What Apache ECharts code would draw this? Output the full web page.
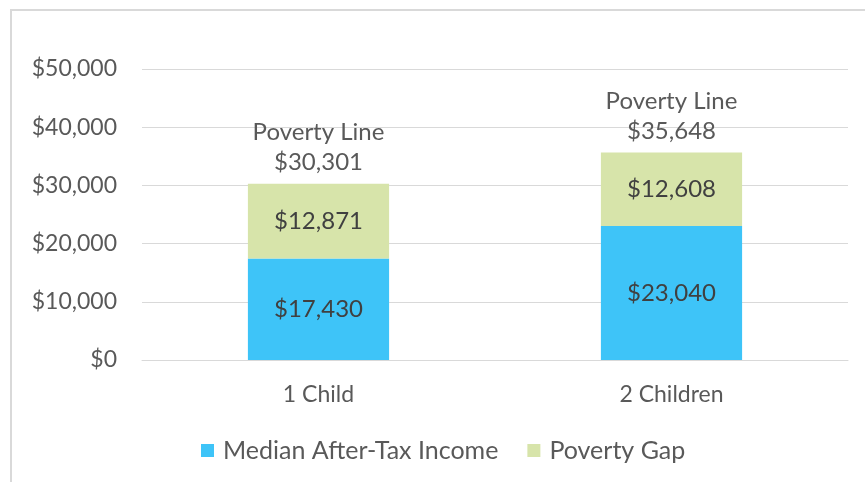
<!DOCTYPE html>
<html>
<head>
<meta charset="utf-8">
<script src="https://cdn.jsdelivr.net/npm/echarts@6/dist/echarts.min.js"></script>
<style>
  html, body { margin: 0; padding: 0; background: #fff; }
  #chart { width: 865px; height: 482px; }
</style>
</head>
<body>
<div id="chart"></div>
<script>
// Household categories and dollar amounts
const categories = ['1 Child', '2 Children'];
const medianIncome = [17430, 23040];
const povertyGap = [12871, 12608];
const povertyLine = [30301, 35648];
const seriesNames = ['Median After-Tax Income', 'Poverty Gap'];

const fontFamily = 'Lato, "Open Sans", sans-serif';
const money = v => '$' + Math.round(v).toLocaleString('en-US');

const chart = echarts.init(document.getElementById('chart'), null, { renderer: 'canvas' });

chart.setOption({
  animation: false,
  backgroundColor: '#ffffff',
  textStyle: { fontFamily: fontFamily },
  graphic: [{
    type: 'rect',
    shape: { x: 11, y: 10, width: 900, height: 520 },
    style: { fill: 'none', stroke: '#d9d9d9', lineWidth: 2 },
    silent: true
  }],
  grid: { left: 142, right: 17, top: 69, bottom: 122 },
  legend: {
    bottom: 14,
    left: 196,
    itemWidth: 13,
    itemHeight: 13,
    itemGap: 29,
    icon: 'rect',
    textStyle: {
      fontSize: 25,
      color: '#595959',
      fontFamily: fontFamily,
      padding: [0, 0, 0, 4]
    },
    data: seriesNames
  },
  xAxis: {
    type: 'category',
    data: categories,
    axisLine: { show: true, lineStyle: { color: '#d9d9d9', width: 1 } },
    axisTick: { show: false },
    axisLabel: { fontSize: 23, color: '#595959', margin: 23, fontFamily: fontFamily }
  },
  yAxis: {
    type: 'value',
    min: 0,
    max: 50000,
    interval: 10000,
    axisLine: { show: false },
    axisTick: { show: false },
    splitLine: { lineStyle: { color: '#d9d9d9', width: 1 } },
    axisLabel: {
      fontSize: 23,
      color: '#595959',
      margin: 25,
      fontFamily: fontFamily,
      formatter: v => money(v)
    }
  },
  series: [
    {
      name: seriesNames[0],
      type: 'bar',
      stack: 'total',
      barWidth: '40%',
      data: medianIncome,
      itemStyle: { color: '#3ec4f8' },
      label: {
        show: true,
        position: 'inside',
        fontSize: 24,
        color: '#404040',
        fontFamily: fontFamily,
        formatter: p => money(p.value)
      }
    },
    {
      name: seriesNames[1],
      type: 'bar',
      stack: 'total',
      barWidth: '40%',
      data: povertyGap,
      itemStyle: { color: '#d7e4aa' },
      label: {
        show: true,
        position: 'inside',
        fontSize: 24,
        color: '#404040',
        fontFamily: fontFamily,
        formatter: p => money(p.value)
      }
    },
    {
      // Poverty line total label sitting above each stack
      name: 'Poverty Line',
      type: 'bar',
      stack: 'total',
      barWidth: '40%',
      data: povertyLine.map(() => 0),
      itemStyle: { color: 'transparent' },
      legendHoverLink: false,
      label: {
        show: true,
        position: 'top',
        distance: 6,
        fontSize: 24,
        lineHeight: 30,
        color: '#595959',
        fontFamily: fontFamily,
        formatter: p => 'Poverty Line\n' + money(povertyLine[p.dataIndex])
      }
    }
  ]
});
</script>
</body>
</html>
